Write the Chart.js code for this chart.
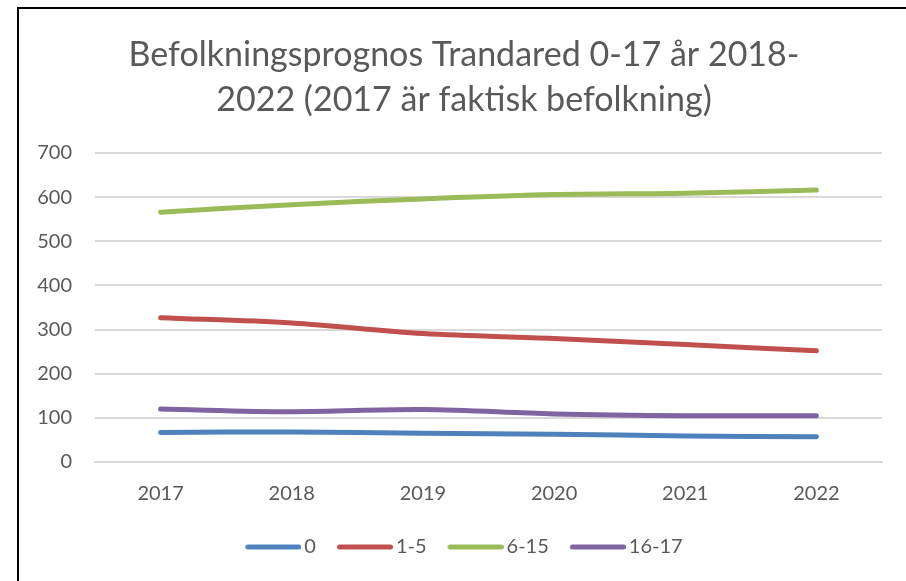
<!DOCTYPE html>
<html>
<head>
<meta charset="utf-8">
<script src="https://cdn.jsdelivr.net/npm/chart.js@4"></script>
<style>
html,body{margin:0;padding:0;background:#fff;}
#wrap{position:relative;width:906px;height:581px;}
#c{position:absolute;left:0;top:0;}
#frame{position:absolute;left:17px;top:7px;width:889px;height:574px;border-left:2px solid #000;border-top:2px solid #000;box-sizing:border-box;pointer-events:none;}
</style>
</head>
<body>
<div id="wrap">
<canvas id="c" width="906" height="581"></canvas>
<div id="frame"></div>
</div>
<script>
const titleLines = ["Befolkningsprognos Trandared 0-17 år 2018-", "2022 (2017 är faktisk befolkning)"];
const categories = ["2017", "2018", "2019", "2020", "2021", "2022"];
const seriesNames = ["0", "1-5", "6-15", "16-17"];
const age0 = [67, 68, 65, 63, 59, 57];
const age1to5 = [327, 315, 291, 280, 266, 252];
const age6to15 = [566, 583, 596, 606, 609, 616];
const age16to17 = [120, 114, 119, 109, 105, 105];
const yTicks = [0, 100, 200, 300, 400, 500, 600, 700];
const colors = ["#4F81BD", "#C0504D", "#9BBB59", "#8064A2"];

const values = [age0, age1to5, age6to15, age16to17];
const FONT = "Lato, 'Open Sans', sans-serif";
const TXT = "#595959";

// legend swatch: a rounded line drawn at the right part of a small canvas
const BOX_W = 59;
function legendSwatch(color) {
  const c = document.createElement('canvas');
  c.width = BOX_W + 14; c.height = 8;
  const g = c.getContext('2d');
  g.strokeStyle = color; g.lineWidth = 5; g.lineCap = 'round';
  g.beginPath(); g.moveTo(c.width - 56 + 2.5, 4); g.lineTo(c.width - 2.5, 4); g.stroke();
  return c;
}

const datasets = seriesNames.map((n, i) => ({
  label: n,
  data: values[i],
  borderColor: colors[i],
  backgroundColor: colors[i],
  borderWidth: 5,
  borderCapStyle: 'round',
  borderJoinStyle: 'round',
  pointStyle: legendSwatch(colors[i]),
  pointRadius: 0,
  pointHoverRadius: 0,
  tension: 0.35,
  fill: false
}));

// shift title and legend boxes horizontally (original centres them slightly right)
const shiftBlocks = {
  id: 'shiftBlocks',
  afterLayout(chart) {
    if (chart.titleBlock) { chart.titleBlock.left += 13; chart.titleBlock.right += 13; }
    if (chart.legend) { chart.legend.left += 8; chart.legend.right += 8; }
  }
};

new Chart(document.getElementById('c'), {
  type: 'line',
  data: { labels: categories, datasets },
  plugins: [shiftBlocks],
  options: {
    responsive: false,
    animation: false,
    events: [],
    layout: { padding: { left: 20, right: 24, top: 20, bottom: 14 } },
    plugins: {
      title: {
        display: true,
        text: titleLines,
        color: TXT,
        font: { family: FONT, size: 34, weight: 'normal', lineHeight: 45 / 34 },
        padding: { top: 13, bottom: 30 }
      },
      legend: {
        display: true,
        position: 'bottom',
        labels: {
          color: TXT,
          font: { family: FONT, size: 20 },
          usePointStyle: true,
          pointStyleWidth: BOX_W,
          padding: 11
        }
      },
      tooltip: { enabled: false }
    },
    scales: {
      x: {
        offset: true,
        grid: { display: false, drawTicks: false },
        border: { display: true, color: '#D9D9D9', width: 2 },
        ticks: { color: TXT, font: { family: FONT, size: 20 }, padding: 20, maxRotation: 0 }
      },
      y: {
        min: 0,
        max: 700,
        afterBuildTicks: (axis) => { axis.ticks = yTicks.map(v => ({ value: v })); },
        afterFit: (axis) => { axis.width = 75; },
        grid: { color: '#D9D9D9', lineWidth: 2, drawTicks: false },
        border: { display: false },
        ticks: { color: TXT, font: { family: FONT, size: 20 }, padding: 23 }
      }
    }
  }
});
</script>
</body>
</html>
